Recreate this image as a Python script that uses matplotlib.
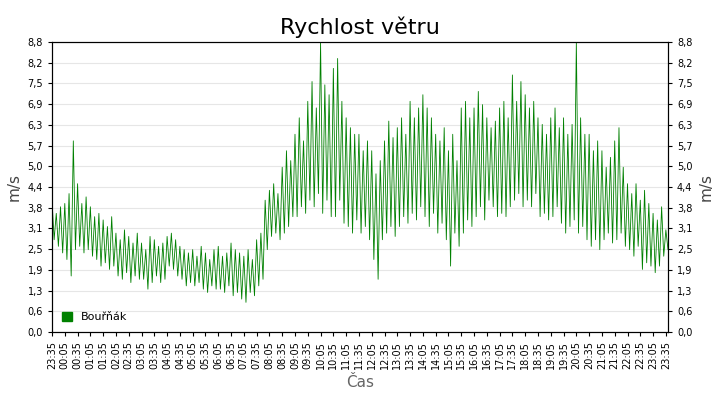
import matplotlib
matplotlib.use("Agg")
import matplotlib.pyplot as plt
import numpy as np
from matplotlib.patches import Patch

# horni a dolni obalka rychlosti po 10 minutach od 23:35
hi = [4.0,3.6,3.8, 3.9,4.2,5.8, 4.5,3.9,4.1, 3.8,3.5,3.6, 3.4,3.2,3.5, 3.0,2.8,3.1,
      2.9,2.7,3.0, 2.7,2.5,2.9, 2.8,2.6,2.7, 2.9,3.0,2.8, 2.6,2.5,2.4, 2.5,2.3,2.6,
      2.4,2.2,2.5, 2.6,2.3,2.4, 2.7,2.5,2.4, 2.3,2.5,2.2, 2.8,3.0,4.0, 4.3,4.5,4.2,
      5.0,5.5,5.2, 6.0,6.5,5.8, 7.0,7.6,6.8, 8.8,7.5,7.2, 8.0,8.3,7.0, 6.5,6.2,6.0,
      6.0,5.5,5.8, 5.5,4.8,5.2, 5.8,6.4,5.9, 6.2,6.5,6.0, 7.0,6.5,6.8, 7.2,6.8,6.5,
      6.0,5.8,6.2, 5.5,6.0,5.2, 6.8,7.0,6.5, 6.8,7.3,6.9, 6.5,6.2,6.4, 6.8,7.0,6.5,
      7.8,7.0,7.6, 7.2,6.8,7.0, 6.5,6.3,6.0, 6.5,6.8,6.2, 6.5,6.0,6.3, 8.8,6.5,6.0,
      6.0,5.5,5.8, 5.5,5.0,5.3, 5.8,6.2,5.0, 4.5,4.2,4.5, 4.0,4.3,3.9, 3.6,3.4,3.8, 3.1]
lo = [2.8,2.6,2.4, 2.2,1.7,2.5, 2.6,2.4,2.5, 2.3,2.2,2.0, 2.1,1.9,2.0, 1.7,1.6,1.8,
      1.5,1.7,1.6, 1.6,1.3,1.5, 1.7,1.5,1.6, 2.0,1.9,1.7, 1.6,1.4,1.5, 1.4,1.5,1.3,
      1.2,1.4,1.3, 1.3,1.2,1.4, 1.1,1.2,1.0, 0.9,1.2,1.1, 1.4,1.6,2.5, 2.9,3.0,2.8,
      3.0,3.2,3.5, 3.5,3.8,3.6, 4.0,3.8,4.2, 3.6,4.0,3.5, 3.5,4.0,3.3, 3.2,3.0,3.4,
      3.0,3.2,2.8, 2.2,1.6,2.8, 3.0,3.2,2.9, 3.2,3.5,3.3, 3.6,3.4,3.8, 3.5,3.2,3.6,
      3.0,3.3,2.8, 2.0,3.0,2.6, 3.0,3.4,3.2, 3.5,3.8,3.4, 4.0,3.8,3.5, 3.6,3.5,3.8,
      4.0,4.2,3.8, 4.0,3.8,4.2, 3.5,3.6,3.4, 3.5,3.8,3.3, 3.0,3.2,3.4, 3.0,3.2,2.8,
      2.6,2.8,2.5, 2.8,3.0,2.7, 2.8,3.0,2.6, 2.5,2.3,2.6, 1.9,2.1,2.0, 1.8,2.0,2.3, 2.5]

tick_labels = []
for k in range(49):
    m = (23*60 + 35 + 30*k) % (24*60)
    tick_labels.append("%02d:%02d" % (m // 60, m % 60))

x = []
y = []
for i in range(len(hi)):
    x += [10*i, 10*i + 5]
    y += [hi[i], lo[i]]

fig = plt.figure(figsize=(7.2, 4), dpi=100)
ax = fig.add_axes([52/720, 68/400, 616/720, 290/400])
ax.plot(x, y, color="#008000", lw=0.6)
ax.set_xlim(0, 1445)
ax.set_ylim(0, 8.8)
yt = np.linspace(0, 8.8, 15)
ax.set_yticks(yt)
ax.set_yticklabels([("%.1f" % v).replace(".", ",") for v in yt], fontsize=7)
ax.set_xticks(np.arange(49)*30)
ax.set_xticklabels(tick_labels, rotation=90, fontsize=7)
ax.grid(axis="y", color="#e6e6e6", lw=0.8)
ax.set_axisbelow(True)
ax.tick_params(length=3)
ax.set_ylabel("m/s", fontsize=11, color="#444444")
ax.set_xlabel("Čas", fontsize=11, color="#666666")
ax.set_title("Rychlost větru", fontsize=16)
ax2 = ax.twinx()
ax2.set_ylim(0, 8.8)
ax2.set_yticks(yt)
ax2.set_yticklabels([("%.1f" % v).replace(".", ",") for v in yt], fontsize=7)
ax2.set_ylabel("m/s", fontsize=11, color="#444444")
ax2.tick_params(length=3)
ax.legend(handles=[Patch(color="#008000", label="Bouřňák")], loc="lower left",
          frameon=False, fontsize=8, handlelength=0.9, handleheight=0.9)
fig.savefig("out.png")
